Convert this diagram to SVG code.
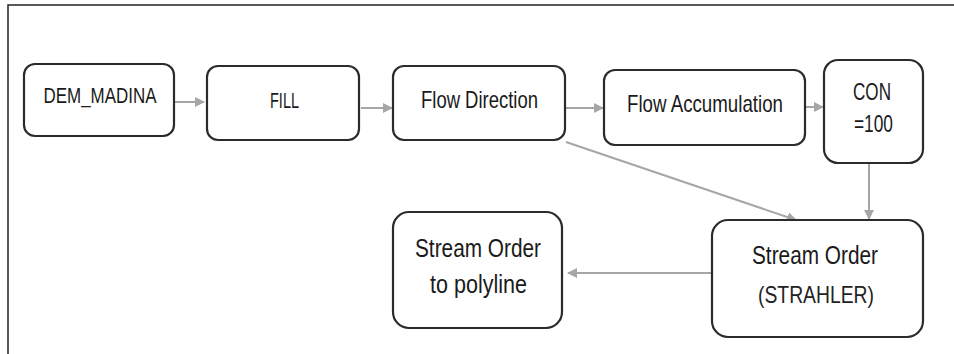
<svg xmlns="http://www.w3.org/2000/svg" width="954" height="354" viewBox="0 0 954 354">
<style>
.box{fill:#fff;stroke:#2b2b2b;stroke-width:2.2}
.t{font-family:"Liberation Sans",Arial,sans-serif;fill:#1a1a1a;text-anchor:middle}
.s{font-family:"Liberation Sans",Arial,sans-serif;fill:#222;text-anchor:middle}
.c{fill:none;stroke:#a6a6a6;stroke-width:2;marker-end:url(#ah)}
</style>
<defs>
<marker id="ah" viewBox="0 0 10 10" refX="9" refY="5" markerWidth="5" markerHeight="5" orient="auto" markerUnits="strokeWidth">
<path d="M0,0 L10,5 L0,10 Z" fill="#a6a6a6"/>
</marker>
</defs>
<rect x="0" y="0" width="954" height="354" fill="#fff"/>
<path d="M8,354 V5 H954" fill="none" stroke="#222" stroke-width="1.5"/>
<g id="connectors">
<line class="c" x1="175" y1="102" x2="204" y2="102"/>
<line class="c" x1="361" y1="108" x2="392" y2="108"/>
<line class="c" x1="566" y1="108" x2="603" y2="108"/>
<line class="c" x1="806" y1="107" x2="823" y2="107"/>
<line class="c" x1="869" y1="164" x2="869" y2="219"/>
<line class="c" x1="566" y1="142" x2="796" y2="220"/>
<line class="c" x1="711" y1="273" x2="568" y2="273"/>
</g>
<g id="dem">
<rect class="box" x="24" y="64" width="150" height="72" rx="11"/>
<text class="t" x="100" y="103" font-size="22" textLength="113" lengthAdjust="spacingAndGlyphs">DEM_MADINA</text>
</g>
<g id="fill">
<rect class="box" x="207" y="66" width="152" height="74" rx="11"/>
<text class="t" x="284.5" y="108" font-size="22" textLength="29" lengthAdjust="spacingAndGlyphs">FILL</text>
</g>
<g id="flowdir">
<rect class="box" x="393" y="66" width="172" height="74" rx="11"/>
<text class="t" x="479.5" y="108" font-size="24" textLength="117" lengthAdjust="spacingAndGlyphs">Flow Direction</text>
</g>
<g id="flowacc">
<rect class="box" x="604" y="70" width="201" height="75" rx="11"/>
<text class="t" x="705" y="112" font-size="24" textLength="156" lengthAdjust="spacingAndGlyphs">Flow Accumulation</text>
</g>
<g id="con">
<rect class="box" x="824" y="60" width="99" height="103" rx="14"/>
<text class="t" x="872" y="100" font-size="23" textLength="38" lengthAdjust="spacingAndGlyphs">CON</text>
<text class="t" x="873.5" y="132" font-size="23" textLength="39" lengthAdjust="spacingAndGlyphs">=100</text>
</g>
<g id="streamorder">
<rect class="box" x="712" y="220" width="211" height="117" rx="16"/>
<text class="t" x="815" y="264" font-size="25" textLength="126" lengthAdjust="spacingAndGlyphs">Stream Order</text>
<text class="s" x="816" y="303" font-size="24" textLength="116" lengthAdjust="spacingAndGlyphs">(STRAHLER)</text>
</g>
<g id="polyline">
<rect class="box" x="393" y="212" width="169" height="116" rx="16"/>
<text class="t" x="478" y="257" font-size="25" textLength="126" lengthAdjust="spacingAndGlyphs">Stream Order</text>
<text class="t" x="478.5" y="293" font-size="25" textLength="97" lengthAdjust="spacingAndGlyphs">to polyline</text>
</g>
</svg>
